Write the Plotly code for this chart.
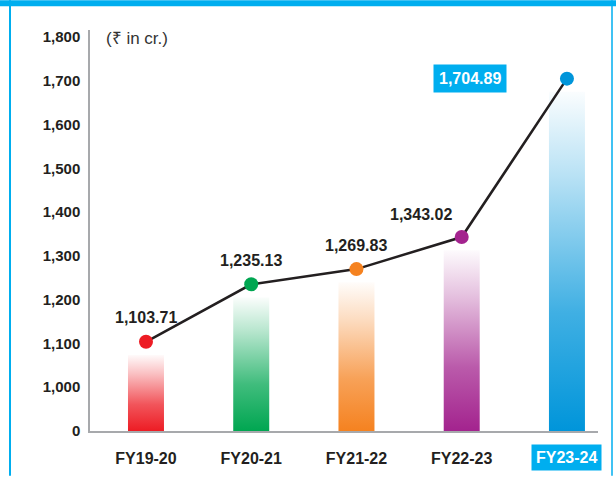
import plotly.graph_objects as go

# ---- data ----
categories = ["FY19-20", "FY20-21", "FY21-22", "FY22-23", "FY23-24"]
values = [1103.71, 1235.13, 1269.83, 1343.02, 1704.89]
value_labels = ["1,103.71", "1,235.13", "1,269.83", "1,343.02", "1,704.89"]
tick_values = [0, 1000, 1100, 1200, 1300, 1400, 1500, 1600, 1700, 1800]
tick_labels = ["0", "1,000", "1,100", "1,200", "1,300", "1,400", "1,500", "1,600", "1,700", "1,800"]
colors = ["#ED1C24", "#00A651", "#F58220", "#A3238E", "#0095DA"]
unit_label = "(₹ in cr.)"

# ---- layout geometry ----
W, H = 616, 479
L, R, T, B = 90, 18, 30, 45
PW, PH = W - L - R, H - T - B
BLUE = "#00AEEF"
DARK = "#231F20"
FONT = "Liberation Sans, Arial, Helvetica, sans-serif"


def px(x):
    return (x - L) / PW


def py(y):
    return (H - B - y) / PH


# broken axis: 0 -> 0, 1000 -> 1, 1100 -> 2, ... 1800 -> 9
def u(v):
    return 0.0 if v < 1000 else (v - 1000) / 100 + 1


def rgba(hexc, a):
    h = hexc.lstrip("#")
    r, g, b = int(h[0:2], 16), int(h[2:4], 16), int(h[4:6], 16)
    return f"rgba({r},{g},{b},{a})"


xs = list(range(len(categories)))
ys = [u(v) for v in values]

fig = go.Figure()

# gradient bars
hw = 0.171
for i, (yv, c) in enumerate(zip(ys, colors)):
    top = yv - 0.3
    fig.add_trace(go.Scatter(
        x=[i - hw, i + hw, i + hw, i - hw, i - hw],
        y=[0, 0, top, top, 0],
        mode="none", fill="toself",
        fillgradient=dict(type="vertical", colorscale=[
            [0, rgba(c, 1)], [0.35, rgba(c, 0.75)], [0.75, rgba(c, 0.28)], [1, rgba(c, 0.02)]]),
        hoverinfo="skip", showlegend=False,
    ))

# line with markers
fig.add_trace(go.Scatter(
    x=xs, y=ys, mode="lines+markers",
    line=dict(color=DARK, width=2.5),
    marker=dict(size=14, color=colors, line=dict(width=0)),
    showlegend=False, hoverinfo="skip",
))

annotations = []
shifts = [(0, 24), (0, 24), (0, 24), (-41, 23)]
for i in range(len(values) - 1):
    annotations.append(dict(
        x=i, y=ys[i], xref="x", yref="y", text=value_labels[i], showarrow=False,
        xshift=shifts[i][0], yshift=shifts[i][1],
        font=dict(family=FONT, size=16, color=DARK, weight="bold"),
    ))
# highlighted last value
annotations.append(dict(
    x=4, y=ys[4], xref="x", yref="y", text=value_labels[4], showarrow=False,
    xshift=-97, yshift=0, bgcolor=BLUE, borderpad=5,
    font=dict(family=FONT, size=16, color="white", weight="bold"),
))
# highlighted last category
annotations.append(dict(
    x=4, y=py(461), xref="x", yref="paper", text=categories[4], showarrow=False,
    bgcolor=BLUE, borderpad=4, yanchor="middle",
    font=dict(family=FONT, size=16, color="white", weight="bold"),
))
# unit label
annotations.append(dict(
    x=px(104), y=py(39), xref="paper", yref="paper", text=unit_label, showarrow=False,
    xanchor="left", yanchor="middle",
    font=dict(family=FONT, size=17, color="#333333"),
))

shapes = [
    dict(type="rect", xref="paper", yref="paper", x0=px(0), x1=px(W), y0=py(6), y1=py(0),
         fillcolor=BLUE, line=dict(width=0), layer="above"),
    dict(type="line", xref="paper", yref="paper", x0=px(10), x1=px(10), y0=py(H), y1=py(0),
         line=dict(color=BLUE, width=2)),
    dict(type="line", xref="paper", yref="paper", x0=px(612), x1=px(612), y0=py(H), y1=py(0),
         line=dict(color=BLUE, width=1.5)),
]

fig.update_layout(
    width=W, height=H,
    margin=dict(l=L, r=R, t=T, b=B),
    paper_bgcolor="white", plot_bgcolor="white",
    font=dict(family=FONT, color=DARK),
    annotations=annotations, shapes=shapes,
    xaxis=dict(
        range=[-0.532, 4.295], tickvals=xs,
        ticktext=categories[:-1] + [""],
        showgrid=False, zeroline=False, showline=True, linecolor="#A7A9AC", linewidth=1.5,
        ticks="", ticklabelstandoff=12,
        tickfont=dict(family=FONT, size=16, color=DARK, weight="bold"),
    ),
    yaxis=dict(
        range=[0, 9.16], tickvals=[u(v) for v in tick_values], ticktext=tick_labels,
        showgrid=False, zeroline=False, showline=True, linecolor="#A7A9AC", linewidth=1.5,
        ticks="", ticklabelstandoff=5,
        tickfont=dict(family=FONT, size=15, color=DARK, weight="bold"),
    ),
)

fig.write_html("out.html", config={"displayModeBar": False},
               post_script="document.body.style.margin='0';")
